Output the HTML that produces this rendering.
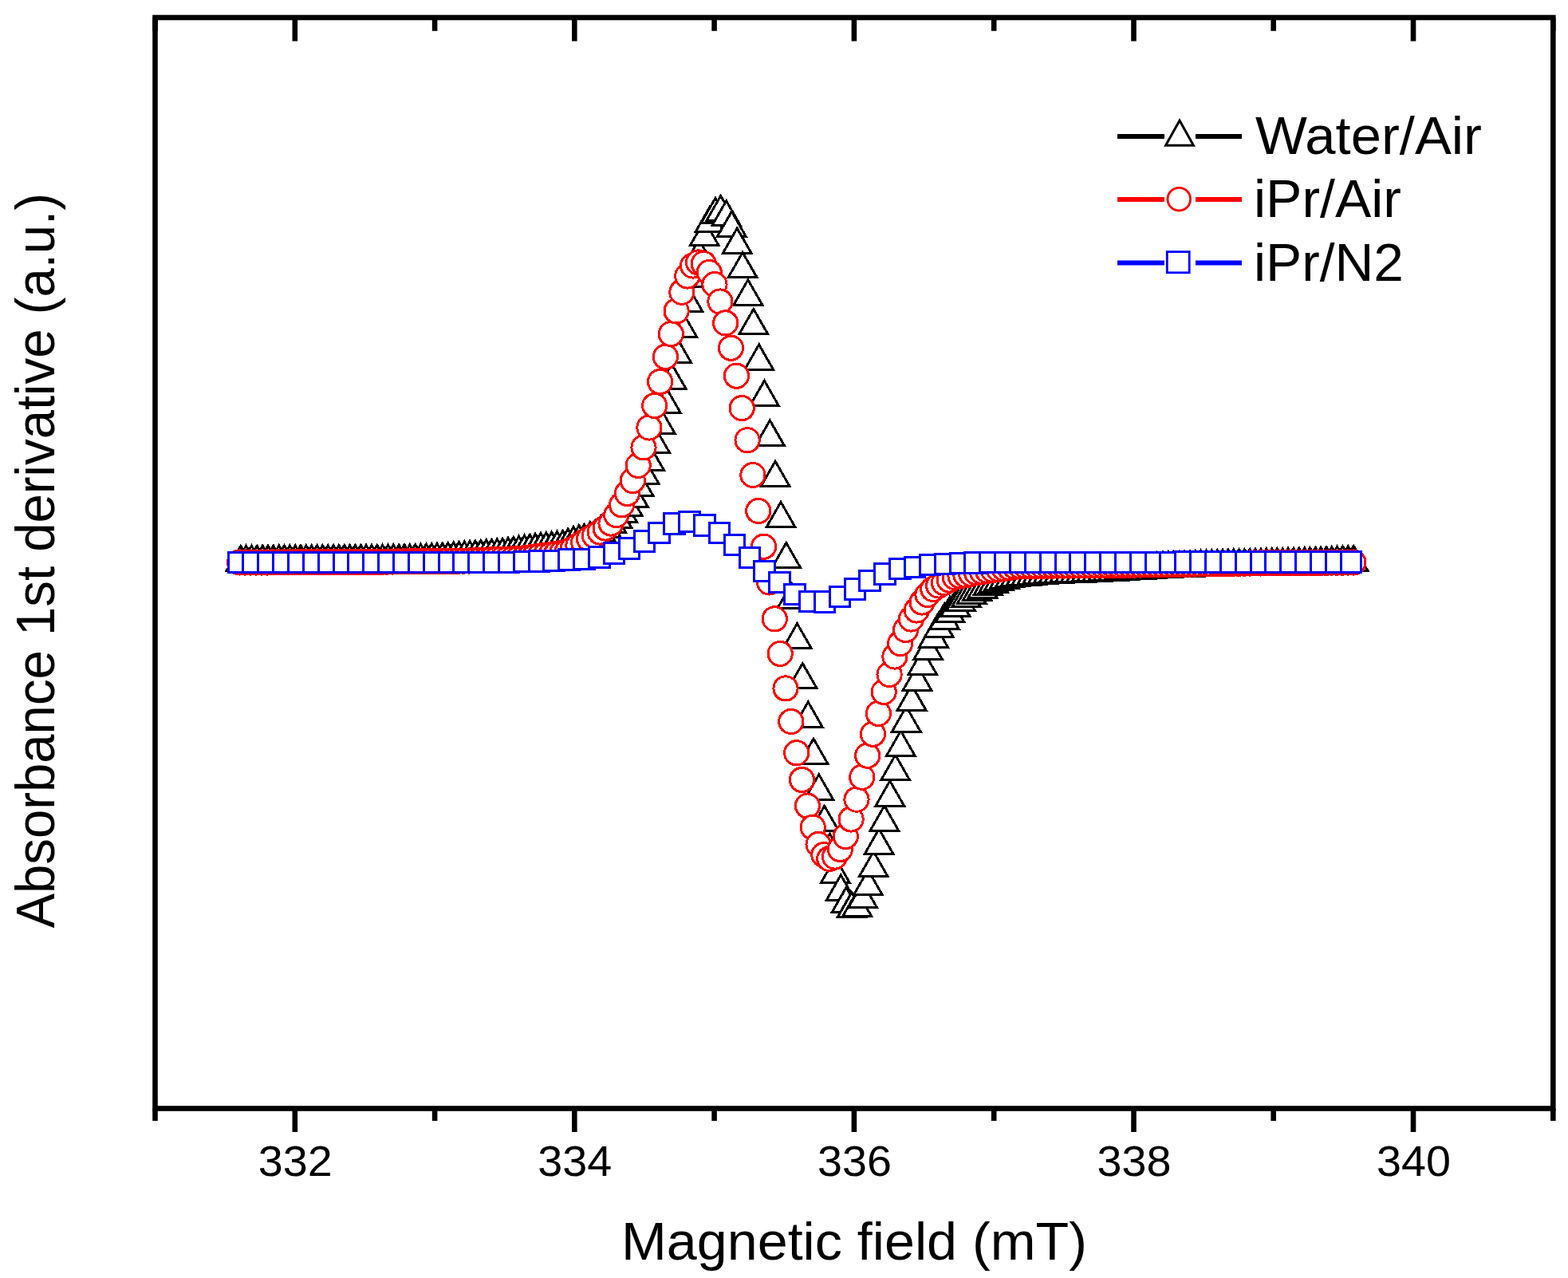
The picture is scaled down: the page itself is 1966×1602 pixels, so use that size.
<!DOCTYPE html>
<html><head><meta charset="utf-8"><title>EPR spectra: Absorbance 1st derivative vs Magnetic field</title>
<style>
html,body{margin:0;padding:0;background:#fff;overflow:hidden;}
svg{display:block;}
text{font-family:"Liberation Sans",Arial,sans-serif;fill:#000;}
</style></head>
<body>
<svg width="1966" height="1602" viewBox="0 0 1966 1602">
<defs>
<path id="t" d="M0,-14.6 L17.9,16.7 L-17.9,16.7 Z" fill="#fff" stroke="#000" stroke-width="3"/>
<circle id="c" cx="0" cy="0" r="15.1" fill="#fff" stroke="#f00" stroke-width="3"/>
<rect id="s" x="-12.75" y="-12.75" width="25.5" height="25.5" fill="#fff" stroke="#00f" stroke-width="3"/>
</defs>
<rect width="1966" height="1602" fill="#fff"/>
<g shape-rendering="crispEdges"><use href="#t" x="301.8" y="699"/><use href="#t" x="308.6" y="698.9"/><use href="#t" x="315.5" y="698.9"/><use href="#t" x="322.3" y="698.8"/><use href="#t" x="329.2" y="698.8"/><use href="#t" x="336" y="698.7"/><use href="#t" x="342.8" y="698.7"/><use href="#t" x="349.7" y="698.6"/><use href="#t" x="356.5" y="698.6"/><use href="#t" x="363.4" y="698.5"/><use href="#t" x="370.2" y="698.5"/><use href="#t" x="377" y="698.5"/><use href="#t" x="383.9" y="698.4"/><use href="#t" x="390.7" y="698.4"/><use href="#t" x="397.6" y="698.3"/><use href="#t" x="404.4" y="698.3"/><use href="#t" x="411.2" y="698.3"/><use href="#t" x="418.1" y="698.2"/><use href="#t" x="424.9" y="698.2"/><use href="#t" x="431.8" y="698.1"/><use href="#t" x="438.6" y="698.1"/><use href="#t" x="445.4" y="698"/><use href="#t" x="452.3" y="698"/><use href="#t" x="459.1" y="698"/><use href="#t" x="466" y="697.9"/><use href="#t" x="472.8" y="697.9"/><use href="#t" x="479.6" y="697.8"/><use href="#t" x="486.5" y="697.7"/><use href="#t" x="493.3" y="697.7"/><use href="#t" x="500.2" y="697.6"/><use href="#t" x="507" y="697.5"/><use href="#t" x="513.8" y="697.4"/><use href="#t" x="520.7" y="697.2"/><use href="#t" x="527.5" y="696.9"/><use href="#t" x="534.4" y="696.6"/><use href="#t" x="541.2" y="696.3"/><use href="#t" x="548" y="696"/><use href="#t" x="554.9" y="695.6"/><use href="#t" x="561.7" y="695.1"/><use href="#t" x="568.6" y="694.5"/><use href="#t" x="575.4" y="694"/><use href="#t" x="582.2" y="693.5"/><use href="#t" x="589.1" y="693"/><use href="#t" x="595.9" y="692.5"/><use href="#t" x="602.8" y="692"/><use href="#t" x="609.6" y="691.5"/><use href="#t" x="616.4" y="691"/><use href="#t" x="623.3" y="690.4"/><use href="#t" x="630.1" y="689.8"/><use href="#t" x="637" y="689.1"/><use href="#t" x="643.8" y="688.1"/><use href="#t" x="650.6" y="686.9"/><use href="#t" x="657.5" y="685.8"/><use href="#t" x="664.3" y="684.8"/><use href="#t" x="671.2" y="683.9"/><use href="#t" x="678" y="683"/><use href="#t" x="684.8" y="682.3"/><use href="#t" x="691.7" y="681.8"/><use href="#t" x="698.5" y="681.1"/><use href="#t" x="705.4" y="680.1"/><use href="#t" x="712.2" y="677.6"/><use href="#t" x="719" y="675.1"/><use href="#t" x="725.9" y="673.3"/><use href="#t" x="732.7" y="672"/><use href="#t" x="739.6" y="669.5"/><use href="#t" x="746.4" y="667"/><use href="#t" x="753.2" y="661.4"/><use href="#t" x="760.1" y="656.5"/><use href="#t" x="766.9" y="651.3"/><use href="#t" x="773.8" y="644.5"/><use href="#t" x="780.6" y="637.6"/><use href="#t" x="787.4" y="630"/><use href="#t" x="794.3" y="618.5"/><use href="#t" x="801.1" y="604.8"/><use href="#t" x="808" y="589.4"/><use href="#t" x="814.8" y="573.1"/><use href="#t" x="821.6" y="550.7"/><use href="#t" x="828.5" y="526.9"/><use href="#t" x="835.3" y="500.7"/><use href="#t" x="842.2" y="470.8"/><use href="#t" x="849" y="438.3"/><use href="#t" x="855.8" y="405.8"/><use href="#t" x="862.7" y="373.4"/><use href="#t" x="869.5" y="343"/><use href="#t" x="876.4" y="315"/><use href="#t" x="883.2" y="291"/><use href="#t" x="890" y="274"/><use href="#t" x="896.9" y="263"/><use href="#t" x="903.7" y="260"/><use href="#t" x="910.6" y="266.3"/><use href="#t" x="917.4" y="279.8"/><use href="#t" x="924.2" y="300.8"/><use href="#t" x="931.1" y="330.9"/><use href="#t" x="937.9" y="365.4"/><use href="#t" x="944.8" y="402"/><use href="#t" x="951.6" y="446.5"/><use href="#t" x="958.4" y="491.8"/><use href="#t" x="965.3" y="541.5"/><use href="#t" x="972.1" y="592.7"/><use href="#t" x="979" y="643.9"/><use href="#t" x="985.8" y="695"/><use href="#t" x="992.6" y="746"/><use href="#t" x="999.5" y="796.2"/><use href="#t" x="1006.3" y="846.2"/><use href="#t" x="1013.2" y="894.5"/><use href="#t" x="1020" y="940.6"/><use href="#t" x="1026.8" y="985.5"/><use href="#t" x="1033.7" y="1024.9"/><use href="#t" x="1040.5" y="1060"/><use href="#t" x="1047.4" y="1089.8"/><use href="#t" x="1054.2" y="1111.5"/><use href="#t" x="1061" y="1127"/><use href="#t" x="1067.9" y="1133.2"/><use href="#t" x="1074.7" y="1131.7"/><use href="#t" x="1081.6" y="1121"/><use href="#t" x="1088.4" y="1105"/><use href="#t" x="1095.2" y="1082"/><use href="#t" x="1102.1" y="1053.8"/><use href="#t" x="1108.9" y="1024.6"/><use href="#t" x="1115.8" y="993.6"/><use href="#t" x="1122.6" y="961"/><use href="#t" x="1129.4" y="930.7"/><use href="#t" x="1136.3" y="900.4"/><use href="#t" x="1143.1" y="873.4"/><use href="#t" x="1150" y="848.7"/><use href="#t" x="1156.8" y="829"/><use href="#t" x="1163.6" y="810"/><use href="#t" x="1170.5" y="794.4"/><use href="#t" x="1177.3" y="782"/><use href="#t" x="1184.2" y="771.4"/><use href="#t" x="1191" y="763"/><use href="#t" x="1197.8" y="755.4"/><use href="#t" x="1204.7" y="749"/><use href="#t" x="1211.5" y="744"/><use href="#t" x="1218.4" y="739.8"/><use href="#t" x="1225.2" y="736"/><use href="#t" x="1232" y="732.5"/><use href="#t" x="1238.9" y="729.1"/><use href="#t" x="1245.7" y="725.7"/><use href="#t" x="1252.6" y="722.7"/><use href="#t" x="1259.4" y="720.5"/><use href="#t" x="1266.2" y="719.3"/><use href="#t" x="1273.1" y="718.2"/><use href="#t" x="1279.9" y="717.3"/><use href="#t" x="1286.8" y="716.5"/><use href="#t" x="1293.6" y="715.8"/><use href="#t" x="1300.4" y="715.2"/><use href="#t" x="1307.3" y="714.7"/><use href="#t" x="1314.1" y="714.2"/><use href="#t" x="1321" y="713.8"/><use href="#t" x="1327.8" y="713.5"/><use href="#t" x="1334.6" y="713.2"/><use href="#t" x="1341.5" y="712.9"/><use href="#t" x="1348.3" y="712.7"/><use href="#t" x="1355.2" y="712.5"/><use href="#t" x="1362" y="712.2"/><use href="#t" x="1368.8" y="711.9"/><use href="#t" x="1375.7" y="711.6"/><use href="#t" x="1382.5" y="711.2"/><use href="#t" x="1389.4" y="710.8"/><use href="#t" x="1396.2" y="710.4"/><use href="#t" x="1403" y="710"/><use href="#t" x="1409.9" y="709.6"/><use href="#t" x="1416.7" y="709.2"/><use href="#t" x="1423.6" y="708.8"/><use href="#t" x="1430.4" y="708.4"/><use href="#t" x="1437.2" y="708"/><use href="#t" x="1444.1" y="707.6"/><use href="#t" x="1450.9" y="707.2"/><use href="#t" x="1457.8" y="706.8"/><use href="#t" x="1464.6" y="706.5"/><use href="#t" x="1471.4" y="706.2"/><use href="#t" x="1478.3" y="705.9"/><use href="#t" x="1485.1" y="705.6"/><use href="#t" x="1492" y="705.4"/><use href="#t" x="1498.8" y="705.1"/><use href="#t" x="1505.6" y="704.9"/><use href="#t" x="1512.5" y="704.6"/><use href="#t" x="1519.3" y="704.4"/><use href="#t" x="1526.2" y="704.2"/><use href="#t" x="1533" y="704"/><use href="#t" x="1539.8" y="703.8"/><use href="#t" x="1546.7" y="703.6"/><use href="#t" x="1553.5" y="703.5"/><use href="#t" x="1560.4" y="703.3"/><use href="#t" x="1567.2" y="703.1"/><use href="#t" x="1574" y="703"/><use href="#t" x="1580.9" y="702.8"/><use href="#t" x="1587.7" y="702.7"/><use href="#t" x="1594.6" y="702.5"/><use href="#t" x="1601.4" y="702.4"/><use href="#t" x="1608.2" y="702.2"/><use href="#t" x="1615.1" y="702.1"/><use href="#t" x="1621.9" y="701.9"/><use href="#t" x="1628.8" y="701.7"/><use href="#t" x="1635.6" y="701.5"/><use href="#t" x="1642.4" y="701.3"/><use href="#t" x="1649.3" y="701"/><use href="#t" x="1656.1" y="700.8"/><use href="#t" x="1663" y="700.5"/><use href="#t" x="1669.8" y="700.2"/><use href="#t" x="1676.6" y="699.9"/><use href="#t" x="1683.5" y="699.6"/><use href="#t" x="1690.3" y="699.3"/><use href="#t" x="1697.2" y="699"/></g>
<g shape-rendering="crispEdges"><use href="#c" x="300.5" y="705"/><use href="#c" x="307.3" y="705"/><use href="#c" x="314.2" y="705"/><use href="#c" x="321" y="705"/><use href="#c" x="327.9" y="705"/><use href="#c" x="334.7" y="705"/><use href="#c" x="341.6" y="704.9"/><use href="#c" x="348.4" y="704.9"/><use href="#c" x="355.3" y="704.9"/><use href="#c" x="362.1" y="704.9"/><use href="#c" x="368.9" y="704.8"/><use href="#c" x="375.8" y="704.8"/><use href="#c" x="382.6" y="704.8"/><use href="#c" x="389.5" y="704.7"/><use href="#c" x="396.3" y="704.7"/><use href="#c" x="403.2" y="704.7"/><use href="#c" x="410" y="704.6"/><use href="#c" x="416.9" y="704.6"/><use href="#c" x="423.7" y="704.6"/><use href="#c" x="430.6" y="704.5"/><use href="#c" x="437.4" y="704.5"/><use href="#c" x="444.2" y="704.5"/><use href="#c" x="451.1" y="704.4"/><use href="#c" x="457.9" y="704.4"/><use href="#c" x="464.8" y="704.3"/><use href="#c" x="471.6" y="704.2"/><use href="#c" x="478.5" y="704.2"/><use href="#c" x="485.3" y="704.1"/><use href="#c" x="492.2" y="704"/><use href="#c" x="499" y="703.9"/><use href="#c" x="505.9" y="703.9"/><use href="#c" x="512.7" y="703.8"/><use href="#c" x="519.5" y="703.7"/><use href="#c" x="526.4" y="703.6"/><use href="#c" x="533.2" y="703.6"/><use href="#c" x="540.1" y="703.5"/><use href="#c" x="546.9" y="703.4"/><use href="#c" x="553.8" y="703.4"/><use href="#c" x="560.6" y="703.3"/><use href="#c" x="567.5" y="703.3"/><use href="#c" x="574.3" y="703.2"/><use href="#c" x="581.1" y="703.1"/><use href="#c" x="588" y="703"/><use href="#c" x="594.8" y="702.8"/><use href="#c" x="601.7" y="702.5"/><use href="#c" x="608.5" y="702.2"/><use href="#c" x="615.4" y="701.8"/><use href="#c" x="622.2" y="701.5"/><use href="#c" x="629.1" y="701.3"/><use href="#c" x="635.9" y="701.1"/><use href="#c" x="642.8" y="700.8"/><use href="#c" x="649.6" y="700.5"/><use href="#c" x="656.4" y="699.9"/><use href="#c" x="663.3" y="699"/><use href="#c" x="670.1" y="698"/><use href="#c" x="677" y="697"/><use href="#c" x="683.8" y="696.2"/><use href="#c" x="690.7" y="695.4"/><use href="#c" x="697.5" y="694.5"/><use href="#c" x="704.4" y="693.3"/><use href="#c" x="711.2" y="691.5"/><use href="#c" x="718" y="688.2"/><use href="#c" x="724.9" y="684"/><use href="#c" x="731.7" y="679.8"/><use href="#c" x="738.6" y="675.5"/><use href="#c" x="745.4" y="671.3"/><use href="#c" x="752.3" y="667"/><use href="#c" x="759.1" y="662"/><use href="#c" x="766" y="656"/><use href="#c" x="772.8" y="645.6"/><use href="#c" x="779.6" y="632.8"/><use href="#c" x="786.5" y="618.5"/><use href="#c" x="793.3" y="602.5"/><use href="#c" x="800.2" y="583.4"/><use href="#c" x="807" y="560.9"/><use href="#c" x="813.9" y="536"/><use href="#c" x="820.7" y="508.5"/><use href="#c" x="827.6" y="478.5"/><use href="#c" x="834.4" y="447.3"/><use href="#c" x="841.3" y="418.6"/><use href="#c" x="848.1" y="389.9"/><use href="#c" x="854.9" y="366.2"/><use href="#c" x="861.8" y="346"/><use href="#c" x="868.6" y="333"/><use href="#c" x="875.5" y="329"/><use href="#c" x="882.3" y="330.5"/><use href="#c" x="889.2" y="341.5"/><use href="#c" x="896" y="356.5"/><use href="#c" x="902.9" y="378"/><use href="#c" x="909.7" y="404.9"/><use href="#c" x="916.5" y="436.2"/><use href="#c" x="923.4" y="471.2"/><use href="#c" x="930.2" y="511.6"/><use href="#c" x="937.1" y="551.8"/><use href="#c" x="943.9" y="595.5"/><use href="#c" x="950.8" y="640.5"/><use href="#c" x="957.6" y="685.2"/><use href="#c" x="964.5" y="730"/><use href="#c" x="971.3" y="775.8"/><use href="#c" x="978.2" y="819.4"/><use href="#c" x="985" y="862.9"/><use href="#c" x="991.8" y="904.5"/><use href="#c" x="998.7" y="943.8"/><use href="#c" x="1005.5" y="977.5"/><use href="#c" x="1012.4" y="1010.1"/><use href="#c" x="1019.2" y="1037.1"/><use href="#c" x="1026.1" y="1058.4"/><use href="#c" x="1032.9" y="1071.5"/><use href="#c" x="1039.8" y="1076.5"/><use href="#c" x="1046.6" y="1074"/><use href="#c" x="1053.4" y="1064.5"/><use href="#c" x="1060.3" y="1048.5"/><use href="#c" x="1067.1" y="1027"/><use href="#c" x="1074" y="1002.2"/><use href="#c" x="1080.8" y="974.2"/><use href="#c" x="1087.7" y="947.2"/><use href="#c" x="1094.5" y="920.2"/><use href="#c" x="1101.4" y="894.4"/><use href="#c" x="1108.2" y="867.4"/><use href="#c" x="1115.1" y="845.5"/><use href="#c" x="1121.9" y="823"/><use href="#c" x="1128.7" y="806.5"/><use href="#c" x="1135.6" y="789.5"/><use href="#c" x="1142.4" y="776"/><use href="#c" x="1149.3" y="765"/><use href="#c" x="1156.1" y="755"/><use href="#c" x="1163" y="745.5"/><use href="#c" x="1169.8" y="738.5"/><use href="#c" x="1176.7" y="734"/><use href="#c" x="1183.5" y="730.5"/><use href="#c" x="1190.3" y="727"/><use href="#c" x="1197.2" y="723.5"/><use href="#c" x="1204" y="722"/><use href="#c" x="1210.9" y="720.7"/><use href="#c" x="1217.7" y="719.3"/><use href="#c" x="1224.6" y="717.8"/><use href="#c" x="1231.4" y="716.5"/><use href="#c" x="1238.3" y="715.3"/><use href="#c" x="1245.1" y="714.4"/><use href="#c" x="1252" y="713.4"/><use href="#c" x="1258.8" y="712.5"/><use href="#c" x="1265.6" y="711.4"/><use href="#c" x="1272.5" y="710.2"/><use href="#c" x="1279.3" y="709.5"/><use href="#c" x="1286.2" y="709.4"/><use href="#c" x="1293" y="709.3"/><use href="#c" x="1299.9" y="709.2"/><use href="#c" x="1306.7" y="709.2"/><use href="#c" x="1313.6" y="709.1"/><use href="#c" x="1320.4" y="709.1"/><use href="#c" x="1327.2" y="709"/><use href="#c" x="1334.1" y="709"/><use href="#c" x="1340.9" y="709"/><use href="#c" x="1347.8" y="708.9"/><use href="#c" x="1354.6" y="708.9"/><use href="#c" x="1361.5" y="708.8"/><use href="#c" x="1368.3" y="708.7"/><use href="#c" x="1375.2" y="708.7"/><use href="#c" x="1382" y="708.6"/><use href="#c" x="1388.9" y="708.5"/><use href="#c" x="1395.7" y="708.4"/><use href="#c" x="1402.5" y="708.3"/><use href="#c" x="1409.4" y="708.2"/><use href="#c" x="1416.2" y="708.1"/><use href="#c" x="1423.1" y="708.1"/><use href="#c" x="1429.9" y="708"/><use href="#c" x="1436.8" y="707.9"/><use href="#c" x="1443.6" y="707.8"/><use href="#c" x="1450.5" y="707.7"/><use href="#c" x="1457.3" y="707.6"/><use href="#c" x="1464.1" y="707.5"/><use href="#c" x="1471" y="707.4"/><use href="#c" x="1477.8" y="707.3"/><use href="#c" x="1484.7" y="707.2"/><use href="#c" x="1491.5" y="707.1"/><use href="#c" x="1498.4" y="707"/><use href="#c" x="1505.2" y="706.9"/><use href="#c" x="1512.1" y="706.8"/><use href="#c" x="1518.9" y="706.7"/><use href="#c" x="1525.8" y="706.5"/><use href="#c" x="1532.6" y="706.4"/><use href="#c" x="1539.4" y="706.3"/><use href="#c" x="1546.3" y="706.2"/><use href="#c" x="1553.1" y="706.2"/><use href="#c" x="1560" y="706.1"/><use href="#c" x="1566.8" y="706"/><use href="#c" x="1573.7" y="705.9"/><use href="#c" x="1580.5" y="705.9"/><use href="#c" x="1587.4" y="705.8"/><use href="#c" x="1594.2" y="705.7"/><use href="#c" x="1601" y="705.7"/><use href="#c" x="1607.9" y="705.6"/><use href="#c" x="1614.7" y="705.5"/><use href="#c" x="1621.6" y="705.5"/><use href="#c" x="1628.4" y="705.4"/><use href="#c" x="1635.3" y="705.4"/><use href="#c" x="1642.1" y="705.3"/><use href="#c" x="1649" y="705.3"/><use href="#c" x="1655.8" y="705.2"/><use href="#c" x="1662.7" y="705.2"/><use href="#c" x="1669.5" y="705.1"/><use href="#c" x="1676.3" y="705.1"/><use href="#c" x="1683.2" y="705.1"/><use href="#c" x="1690" y="705"/><use href="#c" x="1696.9" y="705"/></g>
<g shape-rendering="crispEdges"><use href="#s" x="298.8" y="704.8"/><use href="#s" x="317.7" y="704.8"/><use href="#s" x="336.5" y="704.8"/><use href="#s" x="355.4" y="704.8"/><use href="#s" x="374.2" y="704.8"/><use href="#s" x="393.1" y="704.8"/><use href="#s" x="411.9" y="704.8"/><use href="#s" x="430.8" y="704.8"/><use href="#s" x="449.6" y="704.8"/><use href="#s" x="468.5" y="704.8"/><use href="#s" x="487.3" y="704.8"/><use href="#s" x="506.2" y="704.8"/><use href="#s" x="525" y="704.8"/><use href="#s" x="543.9" y="704.8"/><use href="#s" x="562.8" y="704.8"/><use href="#s" x="581.6" y="704.8"/><use href="#s" x="600.5" y="704.8"/><use href="#s" x="619.3" y="704.8"/><use href="#s" x="638.2" y="704.8"/><use href="#s" x="657" y="703.8"/><use href="#s" x="675.9" y="703.5"/><use href="#s" x="694.7" y="703"/><use href="#s" x="713.6" y="701.7"/><use href="#s" x="732.4" y="701"/><use href="#s" x="751.3" y="698.4"/><use href="#s" x="770.1" y="693.6"/><use href="#s" x="789" y="687.5"/><use href="#s" x="807.9" y="678.3"/><use href="#s" x="826.7" y="668"/><use href="#s" x="845.6" y="656.7"/><use href="#s" x="864.4" y="654"/><use href="#s" x="883.3" y="658.7"/><use href="#s" x="902.1" y="668"/><use href="#s" x="921" y="683.2"/><use href="#s" x="939.8" y="699"/><use href="#s" x="958.7" y="716.2"/><use href="#s" x="977.5" y="730.2"/><use href="#s" x="996.4" y="745"/><use href="#s" x="1015.3" y="754"/><use href="#s" x="1034.1" y="754.3"/><use href="#s" x="1053" y="748"/><use href="#s" x="1071.8" y="738.5"/><use href="#s" x="1090.7" y="727.8"/><use href="#s" x="1109.5" y="719.6"/><use href="#s" x="1128.4" y="712.8"/><use href="#s" x="1147.2" y="710.8"/><use href="#s" x="1166.1" y="708.1"/><use href="#s" x="1184.9" y="706.9"/><use href="#s" x="1203.8" y="706.1"/><use href="#s" x="1222.6" y="705.6"/><use href="#s" x="1241.5" y="705.2"/><use href="#s" x="1260.4" y="705"/><use href="#s" x="1279.2" y="705"/><use href="#s" x="1298.1" y="704.9"/><use href="#s" x="1316.9" y="704.9"/><use href="#s" x="1335.8" y="704.9"/><use href="#s" x="1354.6" y="704.9"/><use href="#s" x="1373.5" y="704.8"/><use href="#s" x="1392.3" y="704.8"/><use href="#s" x="1411.2" y="704.8"/><use href="#s" x="1430" y="704.8"/><use href="#s" x="1448.9" y="704.8"/><use href="#s" x="1467.7" y="704.8"/><use href="#s" x="1486.6" y="704.7"/><use href="#s" x="1505.5" y="704.7"/><use href="#s" x="1524.3" y="704.7"/><use href="#s" x="1543.2" y="704.7"/><use href="#s" x="1562" y="704.6"/><use href="#s" x="1580.9" y="704.6"/><use href="#s" x="1599.7" y="704.6"/><use href="#s" x="1618.6" y="704.6"/><use href="#s" x="1637.4" y="704.6"/><use href="#s" x="1656.3" y="704.5"/><use href="#s" x="1675.1" y="704.5"/><use href="#s" x="1694" y="704.5"/></g>
<rect x="194.5" y="22.0" width="1752.8" height="1367.5" fill="none" stroke="#000" stroke-width="6.6"/>
<g stroke="#000" stroke-width="6.6"><line x1="194.5" y1="1389.5" x2="194.5" y2="1405"/><line x1="194.5" y1="22.0" x2="194.5" y2="38.8"/><line x1="369.8" y1="1389.5" x2="369.8" y2="1419"/><line x1="369.8" y1="22.0" x2="369.8" y2="51.6"/><line x1="545.1" y1="1389.5" x2="545.1" y2="1405"/><line x1="545.1" y1="22.0" x2="545.1" y2="38.8"/><line x1="720.3" y1="1389.5" x2="720.3" y2="1419"/><line x1="720.3" y1="22.0" x2="720.3" y2="51.6"/><line x1="895.6" y1="1389.5" x2="895.6" y2="1405"/><line x1="895.6" y1="22.0" x2="895.6" y2="38.8"/><line x1="1070.9" y1="1389.5" x2="1070.9" y2="1419"/><line x1="1070.9" y1="22.0" x2="1070.9" y2="51.6"/><line x1="1246.2" y1="1389.5" x2="1246.2" y2="1405"/><line x1="1246.2" y1="22.0" x2="1246.2" y2="38.8"/><line x1="1421.5" y1="1389.5" x2="1421.5" y2="1419"/><line x1="1421.5" y1="22.0" x2="1421.5" y2="51.6"/><line x1="1596.7" y1="1389.5" x2="1596.7" y2="1405"/><line x1="1596.7" y1="22.0" x2="1596.7" y2="38.8"/><line x1="1772" y1="1389.5" x2="1772" y2="1419"/><line x1="1772" y1="22.0" x2="1772" y2="51.6"/><line x1="1947.3" y1="1389.5" x2="1947.3" y2="1405"/><line x1="1947.3" y1="22.0" x2="1947.3" y2="38.8"/></g>
<g><text x="370.3" y="1474" text-anchor="middle" font-size="54" textLength="93" lengthAdjust="spacingAndGlyphs">332</text><text x="720.8" y="1474" text-anchor="middle" font-size="54" textLength="93" lengthAdjust="spacingAndGlyphs">334</text><text x="1071.4" y="1474" text-anchor="middle" font-size="54" textLength="93" lengthAdjust="spacingAndGlyphs">336</text><text x="1422" y="1474" text-anchor="middle" font-size="54" textLength="93" lengthAdjust="spacingAndGlyphs">338</text><text x="1772.5" y="1474" text-anchor="middle" font-size="54" textLength="93" lengthAdjust="spacingAndGlyphs">340</text></g>
<text x="779" y="1579" font-size="67.5" textLength="584" lengthAdjust="spacingAndGlyphs">Magnetic field (mT)</text>
<text transform="translate(67.7,1163.5) rotate(-90)" font-size="68.5" textLength="921.5" lengthAdjust="spacingAndGlyphs">Absorbance 1st derivative (a.u.)</text>
<g stroke-width="6" fill="none">
<line x1="1401" y1="171" x2="1460" y2="171" stroke="#000"/><line x1="1499" y1="171" x2="1557" y2="171" stroke="#000"/>
<line x1="1401" y1="250" x2="1460" y2="250" stroke="#f00"/><line x1="1499" y1="250" x2="1557" y2="250" stroke="#f00"/>
<line x1="1401" y1="329.5" x2="1460" y2="329.5" stroke="#00f"/><line x1="1499" y1="329.5" x2="1557" y2="329.5" stroke="#00f"/>
</g>
<path d="M1479,151 L1496.4,182.2 L1461.6,182.2 Z" fill="#fff" stroke="#000" stroke-width="3"/>
<circle cx="1478.3" cy="249.7" r="14.3" fill="#fff" stroke="#f00" stroke-width="2.8"/>
<rect x="1463.3" y="315.6" width="27.9" height="26.2" fill="#fff" stroke="#00f" stroke-width="2.8"/>
<text x="1574" y="193" font-size="67" textLength="284" lengthAdjust="spacingAndGlyphs">Water/Air</text>
<text x="1572" y="271.7" font-size="67" textLength="185" lengthAdjust="spacingAndGlyphs">iPr/Air</text>
<text x="1572" y="352.4" font-size="67" textLength="188" lengthAdjust="spacingAndGlyphs">iPr/N2</text>
</svg>
</body></html>
